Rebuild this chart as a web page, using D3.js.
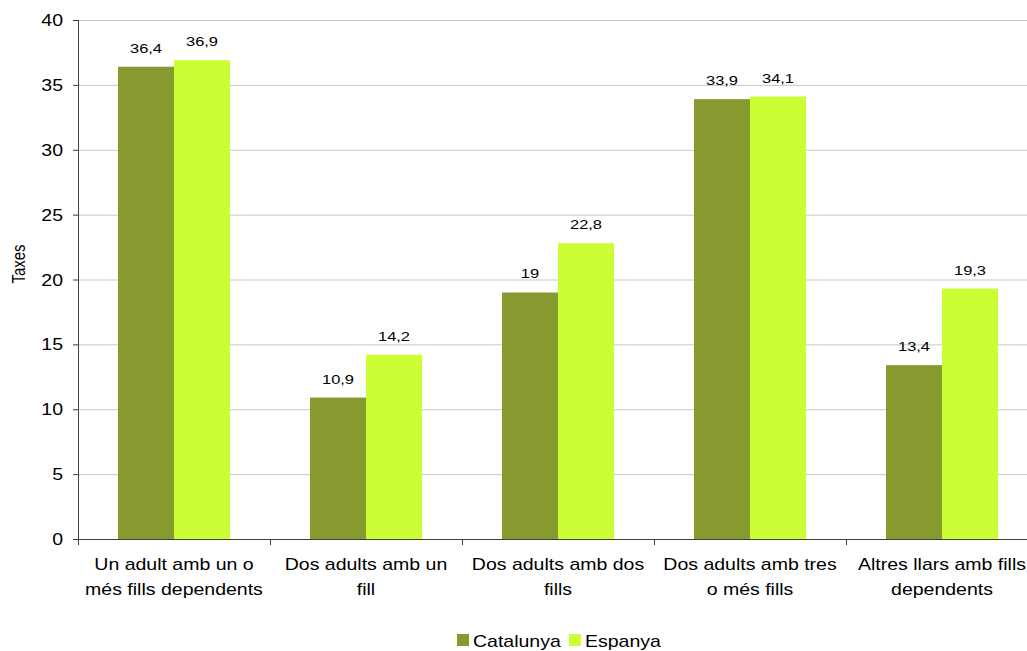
<!DOCTYPE html>
<html><head><meta charset="utf-8">
<script src="https://cdn.jsdelivr.net/npm/d3@7"></script>
<style>body{margin:0;background:#fff}svg{display:block;font-family:"Liberation Sans",Arial,sans-serif}</style>
</head><body><svg id="c" width="1027" height="651"></svg>
<script>
const categories = [
  ["Un adult amb un o", "més fills dependents"],
  ["Dos adults amb un", "fill"],
  ["Dos adults amb dos", "fills"],
  ["Dos adults amb tres", "o més fills"],
  ["Altres llars amb fills", "dependents"]
];
const seriesNames = ["Catalunya", "Espanya"];
const catalunya = [36.4, 10.9, 19, 33.9, 13.4];
const espanya = [36.9, 14.2, 22.8, 34.1, 19.3];
const yTicks = [0, 5, 10, 15, 20, 25, 30, 35, 40];
const colors = ["#869A30", "#CCFF33"];
const SX = 1.22;

const svg = d3.select("#c");
const x0 = 78, x1 = 1038, yTop = 20, yBot = 539;
const idx = categories.map((d, i) => i);
const x = d3.scaleBand().domain(idx).range([x0, x1]).paddingInner(0.4167).paddingOuter(0.2083);
const xs = d3.scaleBand().domain([0, 1]).range([0, x.bandwidth()]);
const y = d3.scaleLinear().domain([0, 40]).range([yBot, yTop]);
const fmt = v => String(v).replace(".", ",");

// gridlines
svg.append("g").selectAll("line").data(yTicks.filter(t => t > 0)).join("line")
  .attr("x1", x0).attr("x2", 1027).attr("y1", d => y(d) + 0.5).attr("y2", d => y(d) + 0.5)
  .attr("stroke", "#c8c8c8").attr("stroke-width", 1);

// bars
const series = [catalunya, espanya];
series.forEach((vals, s) => {
  svg.append("g").selectAll("rect").data(vals).join("rect")
    .attr("x", (d, i) => x(i) + xs(s))
    .attr("width", xs.bandwidth())
    .attr("y", d => y(d))
    .attr("height", d => y(0) - y(d))
    .attr("fill", colors[s]);
  svg.append("g").selectAll("text").data(vals).join("text")
    .attr("transform", (d, i) => `translate(${x(i) + xs(s) + xs.bandwidth() / 2},${y(d) - 14}) scale(${SX},1)`)
    .attr("text-anchor", "middle").attr("font-size", 13.5).attr("fill", "#000")
    .text(d => fmt(d));
});

// axes
const ax = svg.append("g").attr("stroke", "#404040").attr("stroke-width", 1);
ax.append("line").attr("x1", x0 + 0.5).attr("x2", x0 + 0.5).attr("y1", yTop).attr("y2", yBot + 6);
ax.append("line").attr("x1", x0).attr("x2", 1027).attr("y1", yBot + 0.5).attr("y2", yBot + 0.5);
ax.selectAll(".yt").data(yTicks).join("line").attr("class", "yt")
  .attr("x1", x0 - 5).attr("x2", x0).attr("y1", d => y(d) + 0.5).attr("y2", d => y(d) + 0.5);
ax.selectAll(".xt").data(idx.slice(1)).join("line").attr("class", "xt")
  .attr("x1", d => x(d) - x.step() * x.paddingInner() / 2 + 0.5)
  .attr("x2", d => x(d) - x.step() * x.paddingInner() / 2 + 0.5)
  .attr("y1", yBot).attr("y2", yBot + 6);

svg.append("g").selectAll("text").data(yTicks).join("text")
  .attr("transform", d => `translate(63,${y(d) + 6}) scale(${SX},1)`)
  .attr("text-anchor", "end").attr("font-size", 16).text(d => d);

// category labels
const cl = svg.append("g").selectAll("g").data(categories).join("g");
cl.each(function(lines, i) {
  const g = d3.select(this);
  lines.forEach((t, k) => {
    g.append("text")
      .attr("transform", `translate(${x(i) + x.bandwidth() / 2},${570 + k * 25}) scale(${SX},1)`)
      .attr("text-anchor", "middle").attr("font-size", 16).text(t);
  });
});

// y title
svg.append("text").attr("transform", "translate(25,264) rotate(-90) scale(1,1.22)")
  .attr("text-anchor", "middle").attr("font-size", 15).text("Taxes");

// legend
const lg = svg.append("g");
const legX = [457, 569];
seriesNames.forEach((n, s) => {
  lg.append("rect").attr("x", legX[s]).attr("y", 634).attr("width", 12).attr("height", 12).attr("fill", colors[s]);
  lg.append("text").attr("transform", `translate(${legX[s] + 16},647) scale(${SX},1)`)
    .attr("font-size", 16).text(n);
});
</script></body></html>
